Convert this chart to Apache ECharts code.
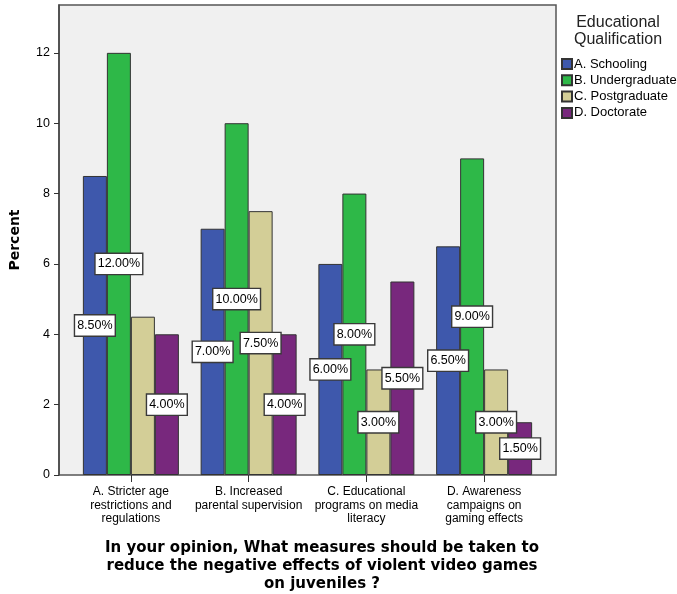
<!DOCTYPE html>
<html>
<head>
<meta charset="utf-8">
<script src="https://cdn.jsdelivr.net/npm/echarts@6/dist/echarts.min.js"></script>
<style>
  html, body { margin: 0; padding: 0; background: #ffffff; }
  #chart { width: 677px; height: 594px; }
</style>
</head>
<body>
<div id="chart"></div>
<script>
// Survey measures (x categories) and percent of respondents by qualification
const categories = [
  'A. Stricter age\nrestrictions and\nregulations',
  'B. Increased\nparental supervision',
  'C. Educational\nprograms on media\nliteracy',
  'D. Awareness\ncampaigns on\ngaming effects'
];
const seriesNames = ['A. Schooling', 'B. Undergraduate', 'C. Postgraduate', 'D. Doctorate'];
const schooling = [8.5, 7.0, 6.0, 6.5];
const undergraduate = [12.0, 10.0, 8.0, 9.0];
const postgraduate = [4.5, 7.5, 3.0, 3.0];
const doctorate = [4.0, 4.0, 5.5, 1.5];
const yTicks = [0, 2, 4, 6, 8, 10, 12];
// value labels left off where they would collide (series index, category index)
const hiddenLabels = [[2, 0]];

const seriesValues = [schooling, undergraduate, postgraduate, doctorate];
const colors = ['#3e58ac', '#2eb848', '#d3ce97', '#78287d'];
const yMax = 13.36;
const FONT = '"Liberation Sans", Arial, sans-serif';
const BOLD = '"DejaVu Sans", sans-serif';

const chart = echarts.init(document.getElementById('chart'), null, { renderer: 'canvas' });

const labelStyle = {
  show: true,
  position: 'inside',
  formatter: p => p.value.toFixed(2) + '%',
  color: '#000000',
  fontFamily: FONT,
  fontSize: 12.5,
  backgroundColor: '#ffffff',
  borderColor: '#3a3a3a',
  borderWidth: 1.4,
  padding: [4, 2, 3, 2]
};

const series = seriesNames.map((name, i) => ({
  name: name,
  type: 'bar',
  xAxisIndex: 1,
  yAxisIndex: 1,
  data: seriesValues[i].map((v, j) => {
    const hide = hiddenLabels.some(h => h[0] === i && h[1] === j);
    return hide ? { value: v, label: { show: false } } : v;
  }),
  barWidth: 24,
  barGap: '0%',
  itemStyle: { color: colors[i], borderColor: '#333333', borderWidth: 1 },
  label: labelStyle,
  emphasis: { disabled: true }
}));

chart.setOption({
  animation: false,
  grid: [
    // frame, background and percent scale
    { left: 58, top: 5, width: 498, height: 470, show: true, backgroundColor: '#f0f0f0',
      borderColor: '#555555', borderWidth: 1.5 },
    // bar area, aligned with the frame vertically
    { left: 72, top: 5, width: 471, height: 470 }
  ],
  xAxis: [
    { gridIndex: 0, type: 'value', min: 0, max: 1, show: false },
    {
      gridIndex: 1, type: 'category', data: categories,
      axisLine: { show: false },
      axisTick: { show: true, alignWithLabel: true, length: 7, lineStyle: { color: '#333333' } },
      axisLabel: { fontFamily: FONT, fontSize: 12, color: '#000000', margin: 10, lineHeight: 13.5,
        interval: 0 }
    }
  ],
  yAxis: [
    {
      gridIndex: 0, type: 'value', min: 0, max: yMax,
      name: 'Percent', nameLocation: 'middle', nameGap: 37,
      nameTextStyle: { fontFamily: BOLD, fontWeight: 'bold', fontSize: 14, color: '#000000' },
      axisLine: { show: true, lineStyle: { color: '#444444', width: 1.5 } },
      axisTick: { show: true, length: 5, customValues: yTicks, lineStyle: { color: '#333333' } },
      axisLabel: {
        fontFamily: FONT, fontSize: 12.5, color: '#000000', margin: 9,
        customValues: yTicks
      },
      splitLine: { show: false }
    },
    { gridIndex: 1, type: 'value', min: 0, max: yMax, show: false }
  ],
  legend: {
    orient: 'vertical',
    left: 561,
    top: 57.5,
    padding: 0,
    itemWidth: 10,
    itemHeight: 10,
    itemGap: 3.3,
    icon: 'rect',
    data: seriesNames,
    textStyle: { fontFamily: FONT, fontSize: 13, color: '#000000', padding: [0, 0, 0, -3] }
  },
  graphic: [
    {
      type: 'text', x: 618, y: 14,
      style: {
        text: 'Educational\nQualification', align: 'center', verticalAlign: 'top',
        fontFamily: FONT, fontSize: 16, lineHeight: 17, fill: '#222222'
      }
    },
    {
      type: 'text', x: 322, y: 539,
      style: {
        text: 'In your opinion, What measures should be taken to\nreduce the negative effects of violent video games\non juveniles ?',
        align: 'center', verticalAlign: 'top',
        fontFamily: BOLD, fontWeight: 'bold', fontSize: 15, lineHeight: 18, fill: '#000000'
      }
    }
  ],
  series: series
});
</script>
</body>
</html>
